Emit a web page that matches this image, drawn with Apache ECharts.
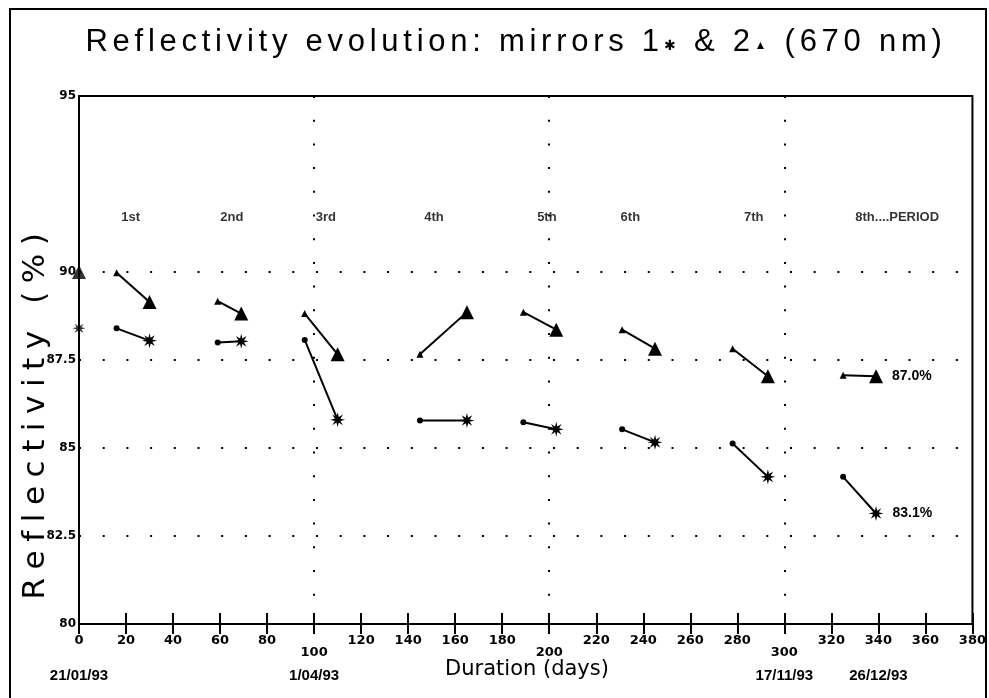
<!DOCTYPE html>
<html><head><meta charset="utf-8">
<script src="https://cdn.jsdelivr.net/npm/echarts@6/dist/echarts.min.js"></script>
<style>html,body{margin:0;padding:0;background:#fff}#c{width:989px;height:698px}</style>
</head><body><div id="c"></div>
<script>
// ---------------- data ----------------
const periodLabels = ['1st', '2nd', '3rd', '4th', '5th', '6th', '7th', '8th....PERIOD'];
const periodLabelDays = [22, 65, 105, 151, 199, 234.5, 287, 348];
const periodLabelLevel = 91.55;
const startDays = [16, 59, 96, 145, 189, 231, 278, 325];
const endDays = [30, 69, 110, 165, 203, 245, 293, 339];
const mirror1Start = [88.40, 88.00, 88.07, 85.78, 85.73, 85.53, 85.13, 84.18];
const mirror1End = [88.05, 88.03, 85.80, 85.78, 85.53, 85.16, 84.18, 83.14];
const mirror2Start = [89.98, 89.17, 88.82, 87.66, 88.86, 88.36, 87.82, 87.07];
const mirror2End = [89.15, 88.82, 87.66, 88.86, 88.36, 87.82, 87.04, 87.04];
const initialDay = 0;
const mirror1Initial = 88.4;
const mirror2Initial = 90.0;
const finalLabels = ['83.1%', '87.0%']; // mirror 1, mirror 2
const dateLabels = ['21/01/93', '1/04/93', '17/11/93', '26/12/93'];
const dateDays = [0, 100, 300, 340];
const yHiddenTicks = [92.5];
const titleText = 'Reflectivity evolution: mirrors 1✱ & 2▲ (670 nm)';
const yName = 'Reflectivity (%)';
const xName = 'Duration (days)';

// ---------------- styles ----------------
function asteriskPath() {
  let p = '';
  for (let k = 0; k < 16; k++) {
    const a = (k * 22.5 - 90) * Math.PI / 180;
    const r = (k % 2 === 0) ? 1 : 0.4;
    const x = (50 + 50 * r * Math.cos(a)).toFixed(2);
    const y = (50 + 50 * r * Math.sin(a)).toFixed(2);
    p += (k === 0 ? 'M' : 'L') + x + ' ' + y + ' ';
  }
  return 'path://' + p + 'Z';
}
const STAR = asteriskPath();
const DOT = [2, 21.7];
const T = 'rgba(0,0,0,0)';
const LAB = 'Liberation Sans';

// letter-spaced rich text (emulates tracking), fitted to a target width
function spacedText(text, family, size, targetWidth, special) {
  const ctx = document.createElement('canvas').getContext('2d');
  const chars = Array.from(text);
  const sizeOf = ch => (special && special[ch]) ? special[ch] : size;
  let natural = 0;
  chars.forEach(ch => { ctx.font = sizeOf(ch) + 'px "' + family + '"'; natural += ctx.measureText(ch).width; });
  const sp = (targetWidth - natural) / chars.length;
  const rich = {}; const map = {}; let out = ''; let n = 0;
  chars.forEach(ch => {
    if (!(ch in map)) {
      const name = 'c' + (n++);
      map[ch] = name;
      ctx.font = sizeOf(ch) + 'px "' + family + '"';
      rich[name] = { fontFamily: family, fontSize: sizeOf(ch), color: '#000', width: ctx.measureText(ch).width + sp, align: 'left' };
      if (special && special[ch]) rich[name].padding = [8, 0, 0, 0];
    }
    out += '{' + map[ch] + '|' + ch + '}';
  });
  return { text: out, rich: rich };
}

const series = [];
function addMirror(startVals, endVals, smallSym, smallSize, bigSym, bigSize, finalLabel) {
  for (let i = 0; i < startDays.length; i++) {
    const endItem = { value: [endDays[i], endVals[i]], symbol: bigSym, symbolSize: bigSize };
    if (i === startDays.length - 1) {
      endItem.label = {
        show: true, position: 'right', distance: 9, formatter: finalLabel,
        color: '#000', fontFamily: LAB, fontWeight: 'bold', fontSize: 14
      };
    }
    series.push({
      type: 'line', clip: false, silent: true, animation: false,
      lineStyle: { color: '#000', width: 2 },
      itemStyle: { color: '#000' },
      showAllSymbol: true,
      data: [
        { value: [startDays[i], startVals[i]], symbol: smallSym, symbolSize: smallSize },
        endItem
      ]
    });
  }
}
addMirror(mirror1Start, mirror1End, 'circle', 6, STAR, 15, finalLabels[0]);
addMirror(mirror2Start, mirror2End, 'triangle', 7, 'triangle', 14, finalLabels[1]);

series.push({
  type: 'scatter', clip: false, silent: true, animation: false,
  itemStyle: { color: '#000' },
  data: [
    { value: [initialDay, mirror2Initial], symbol: 'triangle', symbolSize: 14 },
    { value: [initialDay, mirror1Initial], symbol: STAR, symbolSize: 13 }
  ]
});
series.push({
  type: 'scatter', clip: false, silent: true, animation: false,
  symbolSize: 0, itemStyle: { color: '#000' },
  label: {
    show: true, position: 'inside', color: '#000',
    textBorderWidth: 0, textBorderColor: 'transparent',
    fontFamily: LAB, fontWeight: 'bold', fontSize: 13,
    formatter: p => periodLabels[p.dataIndex]
  },
  data: periodLabelDays.map(d => [d, periodLabelLevel])
});

const chart = echarts.init(document.getElementById('c'), null, { renderer: 'canvas' });
chart.setOption({
  animation: false,
  backgroundColor: '#fff',
  grid: { left: 79, top: 96, width: 900, height: 528, show: true, borderColor: '#000', borderWidth: 2, backgroundColor: T },
  xAxis: [{
    type: 'value', min: 0, max: 380, interval: 20,
    axisLine: { show: true, lineStyle: { color: '#000', width: 2 } },
    axisTick: { show: true, length: 10, lineStyle: { color: '#000', width: 2 } },
    axisLabel: {
      margin: 10, color: '#000', fontFamily: 'DejaVu Sans', fontWeight: 'bold', fontSize: 13,
      formatter: v => (v % 100 === 0 && v > 0 && v < 380) ? '{low|' + v + '}' : '{n|' + v + '}',
      rich: {
        n: { fontFamily: 'DejaVu Sans', fontWeight: 'bold', fontSize: 13, color: '#000' },
        low: { fontFamily: 'DejaVu Sans', fontWeight: 'bold', fontSize: 13, color: '#000', padding: [12, 0, 0, 0] }
      }
    },
    splitLine: { show: true, lineStyle: { color: ['#000', T, T, T, T], width: 2, type: DOT } }
  }, {
    type: 'value', min: 0, max: 380, interval: 20, position: 'bottom', offset: 0,
    axisLine: { show: false }, axisLabel: { show: false }, splitLine: { show: false },
    axisTick: { show: true, inside: true, length: 11, lineStyle: { color: '#000', width: 2 } }
  }],
  yAxis: {
    type: 'value', min: 80, max: 95, interval: 2.5,
    axisLine: { show: true, lineStyle: { color: '#000', width: 2 } },
    axisTick: { show: false },
    axisLabel: {
      margin: 3, color: '#000', fontFamily: 'DejaVu Sans', fontWeight: 'bold', fontSize: 12,
      padding: [0, 0, 6, 0],
      formatter: v => yHiddenTicks.indexOf(v) >= 0 ? '' : String(v)
    },
    splitLine: { show: true, lineStyle: { color: [T, '#000', '#000', '#000', '#000', T, T], width: 2, type: DOT } }
  },
  series: series
});

// ---------------- text furniture ----------------
const title = spacedText(titleText, 'Liberation Sans', 31, 861, { '✱': 14, '▲': 12 });
const yLab = spacedText(yName, 'DejaVu Sans', 31, 375, null);
const graphics = [
  { type: 'rect', silent: true, shape: { x: 10, y: 9, width: 976, height: 700 },
    style: { fill: null, stroke: '#000', lineWidth: 2 } },
  { type: 'text', silent: true, x: 516, y: 42,
    style: { text: title.text, rich: title.rich, align: 'center', verticalAlign: 'middle' } },
  { type: 'text', silent: true, x: 36, y: 412, rotation: Math.PI / 2,
    style: { text: yLab.text, rich: yLab.rich, align: 'center', verticalAlign: 'middle' } },
  { type: 'text', silent: true, x: 527, y: 670,
    style: { text: xName, align: 'center', verticalAlign: 'middle', fontFamily: 'DejaVu Sans', fontSize: 21, fill: '#000' } }
];
dateLabels.forEach((lab, i) => {
  const px = chart.convertToPixel({ xAxisIndex: 0 }, dateDays[i]);
  graphics.push({ type: 'text', silent: true, x: px, y: 676,
    style: { text: lab, align: 'center', verticalAlign: 'middle',
      fontFamily: LAB, fontWeight: 'bold', fontSize: 15, fill: '#000' } });
});
chart.setOption({ graphic: graphics });
</script>
</body></html>
